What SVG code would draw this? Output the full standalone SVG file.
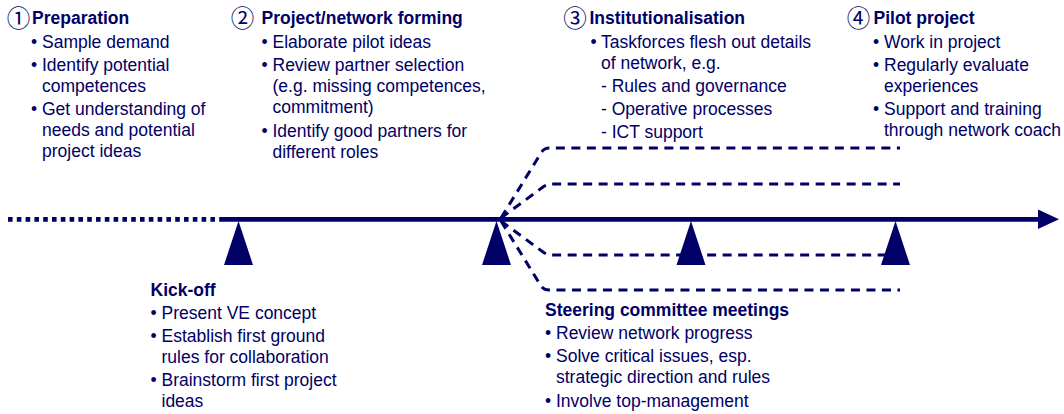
<svg xmlns="http://www.w3.org/2000/svg" width="1064" height="414" viewBox="0 0 1064 414">
  <style>
    text { font-family: "Liberation Sans", Arial, sans-serif; font-size: 17.5px; fill: #000066; }
    .h { font-weight: bold; }
    .num { font-family: "Noto Sans CJK JP", "DejaVu Sans", sans-serif; font-size: 23.5px; text-anchor: middle; }
    .branch { fill: none; stroke: #000066; stroke-width: 3; stroke-dasharray: 9 6.5; }
    .axis { fill: none; stroke: #000066; stroke-width: 4.8; }
    .mark { fill: #000066; }
  </style>

  <!-- timeline and branching work streams -->
  <g id="connectors">
    <line class="axis" x1="8" y1="219.3" x2="220" y2="219.3" stroke-dasharray="4.6 4.2"/>
    <line class="axis" x1="220" y1="219.3" x2="1041" y2="219.3"/>
    <polygon class="mark" points="1038,209.5 1059,219.3 1038,229.1"/>
    <path class="branch" d="M501,218 L541,153 Q544,148 549,148 H900"/>
    <path class="branch" d="M501,218 L543,187 Q547,184 551,184 H900"/>
    <path class="branch" d="M501,221 L543,252 Q547,255 551,255 H900"/>
    <path class="branch" d="M501,221 L541,286 Q544,290 549,290 H900"/>
  </g>

  <!-- milestones -->
  <g id="milestones">
    <polygon class="mark" points="238.5,221 224,265 253,265"/>
    <polygon class="mark" points="496.5,221 482,265 511,265"/>
    <polygon class="mark" points="691,221 676.5,265 705.5,265"/>
    <polygon class="mark" points="895.5,221 881,265 910,265"/>
  </g>

  <g id="phase1">
    <text class="num" x="18.5" y="26.5">①</text>
    <text class="h" x="32" y="24">Preparation</text>
    <text x="31" y="47.5">•</text><text x="42" y="47.5">Sample demand</text>
    <text x="31" y="70.5">•</text><text x="42" y="70.5">Identify potential</text>
    <text x="42" y="91.5">competences</text>
    <text x="31" y="115">•</text><text x="42" y="115">Get understanding of</text>
    <text x="42" y="136">needs and potential</text>
    <text x="42" y="157">project ideas</text>
  </g>

  <g id="phase2">
    <text class="num" x="242.5" y="26.5">②</text>
    <text class="h" x="261.5" y="24">Project/network forming</text>
    <text x="261.5" y="47.5">•</text><text x="272.5" y="47.5">Elaborate pilot ideas</text>
    <text x="261.5" y="70.5">•</text><text x="272.5" y="70.5">Review partner selection</text>
    <text x="272.5" y="91.5">(e.g. missing competences,</text>
    <text x="272.5" y="112.5">commitment)</text>
    <text x="261.5" y="136.5">•</text><text x="272.5" y="136.5">Identify good partners for</text>
    <text x="272.5" y="157.5">different roles</text>
  </g>

  <g id="phase3">
    <text class="num" x="575" y="26.5">③</text>
    <text class="h" x="589.5" y="24">Institutionalisation</text>
    <text x="590.5" y="47.5">•</text><text x="601" y="47.5">Taskforces flesh out details</text>
    <text x="601" y="69">of network, e.g.</text>
    <text x="601" y="91.5">- Rules and governance</text>
    <text x="601" y="114.5">- Operative processes</text>
    <text x="601" y="137.5">- ICT support</text>
  </g>

  <g id="phase4">
    <text class="num" x="858.5" y="26.5">④</text>
    <text class="h" x="873.5" y="24">Pilot project</text>
    <text x="873" y="47.5">•</text><text x="884" y="47.5">Work in project</text>
    <text x="873" y="70.5">•</text><text x="884" y="70.5">Regularly evaluate</text>
    <text x="884" y="91.5">experiences</text>
    <text x="873" y="115">•</text><text x="884" y="115">Support and training</text>
    <text x="884" y="136">through network coach</text>
  </g>

  <g id="kickoff">
    <text class="h" x="150.5" y="296">Kick-off</text>
    <text x="150.5" y="318.5">•</text><text x="161.5" y="318.5">Present VE concept</text>
    <text x="150.5" y="341.5">•</text><text x="161.5" y="341.5">Establish first ground</text>
    <text x="161.5" y="363">rules for collaboration</text>
    <text x="150.5" y="386">•</text><text x="161.5" y="386">Brainstorm first project</text>
    <text x="161.5" y="407">ideas</text>
  </g>

  <g id="steering">
    <text class="h" x="545" y="316">Steering committee meetings</text>
    <text x="545" y="338.5">•</text><text x="556" y="338.5">Review network progress</text>
    <text x="545" y="361.5">•</text><text x="556" y="361.5">Solve critical issues, esp.</text>
    <text x="556" y="382.5">strategic direction and rules</text>
    <text x="545" y="406.5">•</text><text x="556" y="406.5">Involve top-management</text>
  </g>
</svg>
